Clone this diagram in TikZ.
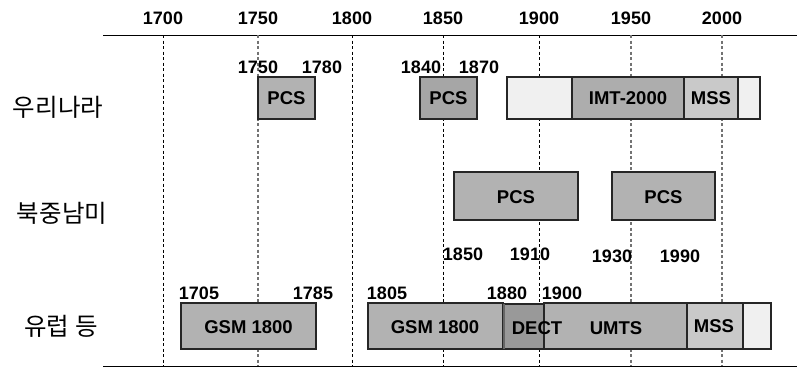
\documentclass[tikz,border=0pt]{standalone}
\usepackage{fontspec}
\setmainfont{Liberation Sans}
\newfontfamily\kor{Noto Sans CJK KR}
\begin{document}
\begin{tikzpicture}[x=1pt,y=-1pt,
  yr/.style={font=\bfseries\fontsize{18}{20}\selectfont, inner sep=0pt},
  bx/.style={draw=black!85, line width=1.1pt},
  bl/.style={font=\bfseries\fontsize{18.5}{20}\selectfont, inner sep=0pt},
  kl/.style={font=\kor\fontsize{24.5}{27}\selectfont, inner sep=0pt},
  vdb/.style={dash pattern=on 3pt off 2.5pt, line width=1pt, black},
  vdg/.style={dash pattern=on 3pt off 2.5pt, line width=1.2pt, black!55}]
\useasboundingbox (0,0) rectangle (805,370);
% axes
\coordinate (tl) at (103,35); \coordinate (tr) at (797,35);
\coordinate (bl0) at (103,366); \coordinate (br) at (797,366);
\draw[line width=1pt] (tl) -- (tr);
\draw[line width=1pt] (bl0) -- (br);
% top year labels
\node[yr] (y1700) at (163,18) {1700};
\node[yr] (y1750) at (258,18) {1750};
\node[yr] (y1800) at (352,18) {1800};
\node[yr] (y1850) at (443,18) {1850};
\node[yr] (y1900) at (539,18) {1900};
\node[yr] (y1950) at (631,18) {1950};
\node[yr] (y2000) at (722,18) {2000};
% dashed grid
\draw[vdb] (163,35) -- (163,366);
\draw[vdg] (258,35) -- (258,366);
\draw[vdb] (352,35) -- (352,366);
\draw[vdb] (443,35) -- (443,366);
\draw[vdb] (539,35) -- (539,366);
\draw[vdg] (631,35) -- (631,366);
\draw[vdg] (722,35) -- (722,366);
% row labels
\node[kl] (k1) at (58,107) {우리나라};
\node[kl] (k2) at (62,213) {북중남미};
\node[kl] (k3) at (61,326) {유럽 등};
% row 1
\draw[bx, fill=black!30] (258,77) rectangle (315,119);
\node[bl] (p1) at (286.5,98) {PCS};
\draw[bx, fill=black!35] (420,77) rectangle (477,119);
\node[bl] (p2) at (448.5,98) {PCS};
\draw[bx, fill=black!6] (507,77) rectangle (572,119);
\draw[bx, fill=black!32] (572,77) rectangle (684,119);
\node[bl] (imt) at (628,98) {IMT-2000};
\draw[bx, fill=black!21] (684,77) rectangle (738,119);
\node[bl] (mss1) at (711,98) {MSS};
\draw[bx, fill=black!6] (738,77) rectangle (760,119);
\node[yr] (a1750) at (258,67) {1750};
\node[yr] (a1780) at (322,67) {1780};
\node[yr] (a1840) at (421,67) {1840};
\node[yr] (a1870) at (479,67) {1870};
% row 2
\draw[bx, fill=black!30] (454,172) rectangle (578,220);
\node[bl] (p3) at (516,197) {PCS};
\draw[bx, fill=black!30] (612,172) rectangle (715,220);
\node[bl] (p4) at (663.5,197) {PCS};
\node[yr] (b1850) at (463,254) {1850};
\node[yr] (b1910) at (530,254) {1910};
\node[yr] (b1930) at (612,256) {1930};
\node[yr] (b1990) at (680,256) {1990};
% row 3
\draw[bx, fill=black!30] (181,303) rectangle (316,349);
\node[bl] (g1) at (248.5,327) {GSM 1800};
\draw[bx, fill=black!30] (368,303) rectangle (503,349);
\node[bl] (g2) at (435,327) {GSM 1800};
\draw[bx, fill=black!30] (544,303) rectangle (687,349);
\draw[bx, fill=black!40] (503,304) rectangle (544,349);
\draw[line width=1.6pt, black!60] (504,304) -- (504,349);
\node[bl] (dect) at (537,328) {DECT};
\node[bl] (umts) at (616,328) {UMTS};
\draw[bx, fill=black!21] (687,303) rectangle (743,349);
\node[bl] (mss2) at (714,326) {MSS};
\draw[bx, fill=black!6] (743,303) rectangle (771,349);
\node[yr] (c1705) at (199,293) {1705};
\node[yr] (c1785) at (313,293) {1785};
\node[yr] (c1805) at (387,293) {1805};
\node[yr] (c1880) at (507,293) {1880};
\node[yr] (c1900) at (562,293) {1900};
\end{tikzpicture}
\end{document}
